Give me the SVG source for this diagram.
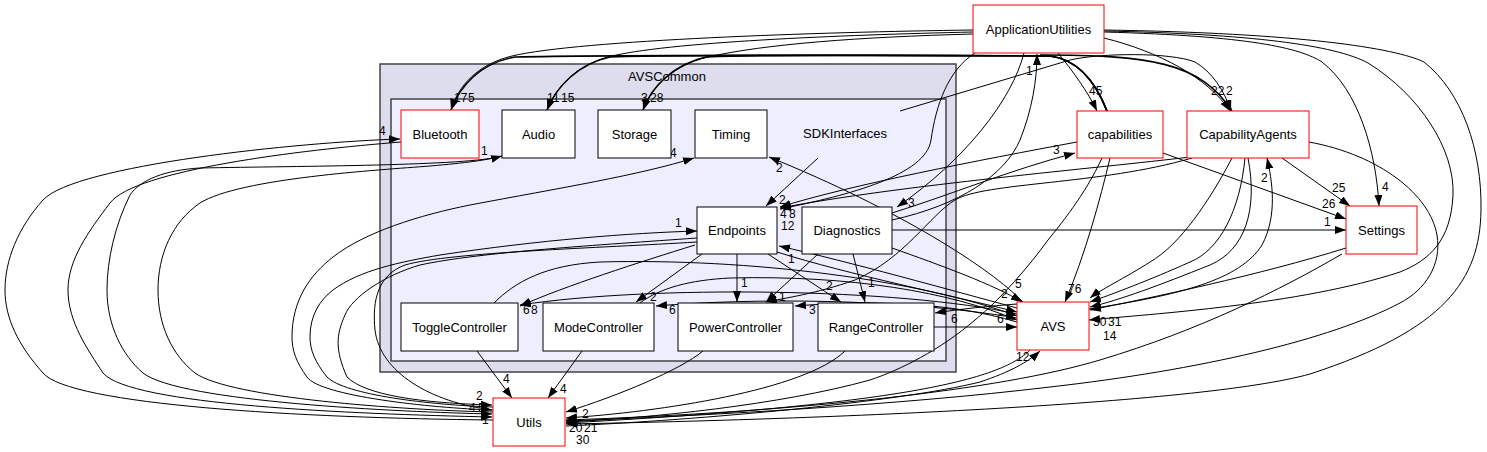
<svg xmlns="http://www.w3.org/2000/svg" width="1487" height="452" viewBox="0 0 1487 452">
<style>
.bg{fill:#ffffff}
.c1{fill:#ddddee;stroke:#444444;stroke-width:1.5}
.c2{fill:#eeeeff;stroke:#444444;stroke-width:1.5}
.n{fill:#ffffff;stroke:#000000;stroke-width:1}
.r{fill:#ffffff;stroke:#ff0000;stroke-width:1}
.t{font-family:"Liberation Sans",Arial,sans-serif;font-size:13px;fill:#000;text-anchor:middle}
.l{font-family:"Liberation Sans",Arial,sans-serif;font-size:12px;fill:#000}
.e{fill:none;stroke:#000;stroke-width:1;marker-end:url(#a)}
.b{fill:none;stroke:#000;stroke-width:1.6;marker-end:url(#a)}
</style>
<defs>
<marker id="a" markerUnits="userSpaceOnUse" markerWidth="12" markerHeight="9" refX="11" refY="4" orient="auto">
<path d="M0,0 L11,4 L0,8 z" fill="#000"/>
</marker>
</defs>
<rect class="bg" x="0" y="0" width="1487" height="452"/>
<g id="cluster-AVSCommon">
<rect class="c1" x="380" y="64" width="576" height="308"/>
<text class="t" x="667" y="80.5">AVSCommon</text>
</g>
<g id="cluster-SDKInterfaces">
<rect class="c2" x="391" y="99" width="555" height="262"/>
<text class="t" x="845" y="137.5">SDKInterfaces</text>
</g>
<g id="connectors">
<path class="e" d="M973,30 C820,32 580,40 512,56 C478,64 458,86 451,110"/>
<path class="b" d="M1107,111 C1098,88 1082,60 1050,56 C900,55 600,55 515,57 C480,63 460,86 451,110"/>
<path class="e" d="M973,32 C840,35 665,42 608,57 C577,65 556,87 547,110"/>
<path class="b" d="M1107,111 C1098,88 1082,60 1050,56 C900,55 700,55 610,57 C578,64 556,87 547,110"/>
<path class="e" d="M973,34 C860,37 765,44 708,57 C674,65 651,87 643,110"/>
<path class="b" d="M1107,111 C1098,88 1082,60 1050,56 C900,55 760,55 706,57 C674,64 651,87 643,110"/>
<path class="e" d="M1058,53 C1072,70 1088,92 1097,111"/>
<path class="e" d="M1104,38 C1160,52 1208,78 1230,111"/>
<path class="b" d="M1040,55 C1150,55 1200,62 1232,111"/>
<path class="e" d="M900,111 L1070,60 C1100,53 1170,52 1195,62 C1212,72 1224,90 1231,111"/>
<path class="e" d="M1104,32 C1250,36 1300,48 1322,62 C1358,90 1376,150 1379,206"/>
<path class="e" d="M1104,31 C1250,34 1335,45 1368,63 C1420,95 1455,150 1453,195 C1451,240 1430,260 1400,272 C1300,305 1150,314 1089,320"/>
<path class="e" d="M1104,30 C1300,33 1395,48 1424,62 C1462,92 1482,150 1481,210 C1480,280 1445,330 1310,374 C1200,405 800,420 566,424"/>
<path class="e" d="M1309,142 C1380,155 1430,195 1437,235 C1442,265 1425,290 1400,303 C1330,340 1200,370 1050,387 C900,405 700,416 566,421"/>
<path class="e" d="M1342,254 C1280,290 1200,330 1100,360 C1000,390 800,412 566,420"/>
<path class="e" d="M1346,248 C1260,275 1150,298 1090,310"/>
<path class="e" d="M1163,153 L1346,219"/>
<path class="e" d="M1282,158 L1350,206"/>
<path class="e" d="M892,230 L1346,230"/>
<path class="e" d="M1089,309 C1180,295 1240,280 1262,245 C1278,215 1272,180 1267,158"/>
<path class="e" d="M1232,158 C1210,200 1180,245 1150,262 C1125,278 1100,290 1090,298"/>
<path class="e" d="M1245,158 C1240,210 1220,250 1190,262 C1150,280 1110,295 1090,302"/>
<path class="e" d="M1248,158 C1258,210 1245,250 1210,265 C1160,285 1120,300 1090,307"/>
<path class="e" d="M1192,158 C1100,185 985,182 955,200 C930,215 905,258 855,280 C815,294 785,298 766,302"/>
<path class="e" d="M1190,157 C1100,168 900,185 780,208"/>
<path class="e" d="M1077,142 C980,160 850,185 780,207"/>
<path class="e" d="M975,53 C948,70 936,105 931,140 C926,175 850,195 780,209"/>
<path class="e" d="M892,213 C950,195 1010,170 1075,153"/>
<path class="e" d="M892,220 C960,205 1005,175 1020,140 C1032,110 1037,80 1037,54"/>
<path class="e" d="M1024,53 C1012,100 965,160 897,207"/>
<path class="e" d="M1023,302 C990,268 900,210 769,157"/>
<path class="e" d="M818,158 L766,206"/>
<path class="e" d="M695,245 C640,262 565,286 520,306"/>
<path class="e" d="M702,254 L636,302"/>
<path class="e" d="M737,254 L737,302"/>
<path class="e" d="M768,254 L841,302"/>
<path class="e" d="M818,254 L766,302"/>
<path class="e" d="M853,254 L865,302"/>
<path class="e" d="M477,351 L512,398"/>
<path class="e" d="M582,351 L548,398"/>
<path class="e" d="M703,351 C680,370 620,395 566,412"/>
<path class="e" d="M845,351 C805,390 660,412 566,418"/>
<path class="e" d="M934,327 L1017,327"/>
<path class="e" d="M1017,304 C990,306 960,309 935,313"/>
<path class="e" d="M1017,308 C950,290 850,262 779,246"/>
<path class="e" d="M777,252 C850,275 950,295 1017,312"/>
<path class="e" d="M892,248 C940,265 995,285 1022,302"/>
<path class="e" d="M494,303 C515,282 545,265 600,262 C750,258 920,280 1017,316"/>
<path class="e" d="M640,303 C660,288 690,280 730,278 C850,275 950,292 1017,320"/>
<path class="e" d="M1017,318 C900,298 750,298 656,306"/>
<path class="e" d="M1017,322 C950,302 870,300 795,306"/>
<path class="e" d="M1017,314 C900,288 650,285 520,305"/>
<path class="e" d="M1110,158 C1100,200 1085,255 1065,302"/>
<path class="e" d="M1102,158 C1085,195 1060,225 1048,240 C1030,265 1000,300 975,320 C940,350 900,370 870,380 C780,405 650,418 566,422"/>
<path class="e" d="M566,426 C700,420 900,402 980,382 C1010,372 1028,362 1040,351"/>
<path class="e" d="M1030,350 C1000,380 900,405 566,423"/>
<path class="e" d="M493,420 C300,418 70,405 43,373 C18,345 5,318 5,290 C5,260 18,228 43,200 C75,165 300,142 400,139"/>
<path class="e" d="M401,142 C300,150 135,170 110,203 C88,232 68,260 68,290 C68,322 88,350 103,373 C130,405 350,414 492,417"/>
<path class="e" d="M502,156 C470,166 300,166 200,168 C165,170 140,180 130,195 C115,225 107,260 107,290 C107,325 122,355 143,373 C180,402 400,412 492,414"/>
<path class="e" d="M493,412 C400,410 230,398 195,373 C172,355 158,325 158,290 C158,255 172,222 200,203 C240,178 380,170 430,166 C465,163 488,160 502,156"/>
<path class="e" d="M493,410 C430,408 320,396 307,377 C296,362 292,350 292,337 C292,300 310,275 333,257 C365,232 420,215 470,205 C560,188 640,175 694,158"/>
<path class="e" d="M493,407 C430,405 345,395 327,377 C315,362 310,350 310,337 C310,315 320,300 333,290 C360,270 400,262 440,255 C540,240 630,233 697,231"/>
<path class="e" d="M697,238 C600,245 480,252 420,265 C385,275 352,297 345,315 C336,335 335,350 347,377 C365,395 420,403 492,405"/>
<path class="e" d="M697,242 C600,248 450,252 405,265 C378,275 372,300 375,330 C380,372 430,402 492,410"/>
</g>
<g id="labels">
<text class="l" x="454" y="102">17</text><text class="l" x="468" y="102">5</text>
<text class="l" x="547" y="102">11</text><text class="l" x="561" y="102">15</text>
<text class="l" x="641" y="102">3</text><text class="l" x="650" y="102">28</text>
<text class="l" x="1089" y="95">45</text>
<text class="l" x="1211" y="95">22</text><text class="l" x="1226" y="95">2</text>
<text class="l" x="1382" y="191">4</text>
<text class="l" x="1332" y="192">25</text>
<text class="l" x="1322" y="208">26</text>
<text class="l" x="1324" y="226">1</text>
<text class="l" x="1261" y="182">2</text>
<text class="l" x="1103" y="340">14</text>
<text class="l" x="1093" y="326">30</text><text class="l" x="1108" y="326">31</text>
<text class="l" x="1001" y="298">2</text>
<text class="l" x="1015" y="288">5</text>
<text class="l" x="1068" y="293">76</text>
<text class="l" x="997" y="323">6</text>
<text class="l" x="951" y="323">6</text>
<text class="l" x="1016" y="361">12</text>
<text class="l" x="776" y="172">2</text>
<text class="l" x="670" y="157">4</text>
<text class="l" x="481" y="155">1</text>
<text class="l" x="379" y="135">4</text>
<text class="l" x="779" y="204">2</text>
<text class="l" x="780" y="218">4</text><text class="l" x="789" y="218">8</text><text class="l" x="781" y="230">12</text>
<text class="l" x="908" y="207">3</text>
<text class="l" x="788" y="263">1</text>
<text class="l" x="675" y="227">1</text>
<text class="l" x="741" y="287">1</text>
<text class="l" x="826" y="290">2</text>
<text class="l" x="779" y="301">1</text>
<text class="l" x="868" y="287">1</text>
<text class="l" x="809" y="314">3</text>
<text class="l" x="669" y="314">6</text>
<text class="l" x="650" y="301">2</text>
<text class="l" x="523" y="314">6</text><text class="l" x="531" y="314">8</text>
<text class="l" x="503" y="383">4</text>
<text class="l" x="560" y="393">4</text>
<text class="l" x="476" y="400">2</text>
<text class="l" x="469" y="412">4</text><text class="l" x="478" y="412">5</text><text class="l" x="482" y="424">1</text>
<text class="l" x="582" y="418">2</text>
<text class="l" x="569" y="432">20</text><text class="l" x="584" y="432">21</text><text class="l" x="576" y="444">30</text>
<text class="l" x="1053" y="154">3</text>
<text class="l" x="1026" y="75">1</text>
</g>
<g id="node-ApplicationUtilities"><rect class="r" x="973" y="5" width="131" height="48"/><text class="t" x="1038.5" y="33.5">ApplicationUtilities</text></g>
<g id="node-capabilities"><rect class="r" x="1077" y="111" width="86" height="47"/><text class="t" x="1120" y="139">capabilities</text></g>
<g id="node-CapabilityAgents"><rect class="r" x="1187" y="111" width="122" height="47"/><text class="t" x="1248" y="139">CapabilityAgents</text></g>
<g id="node-Settings"><rect class="r" x="1346" y="206" width="71" height="48"/><text class="t" x="1381.5" y="234.5">Settings</text></g>
<g id="node-AVS"><rect class="r" x="1017" y="302" width="72" height="48"/><text class="t" x="1053" y="330.5">AVS</text></g>
<g id="node-Utils"><rect class="r" x="493" y="398" width="72" height="48"/><text class="t" x="529" y="426.5">Utils</text></g>
<g id="node-Bluetooth"><rect class="r" x="401" y="110" width="78" height="48"/><text class="t" x="440" y="138.5">Bluetooth</text></g>
<g id="node-Audio"><rect class="n" x="502" y="110" width="73" height="48"/><text class="t" x="538.5" y="138.5">Audio</text></g>
<g id="node-Storage"><rect class="n" x="598" y="110" width="73" height="48"/><text class="t" x="634.5" y="138.5">Storage</text></g>
<g id="node-Timing"><rect class="n" x="695" y="110" width="72" height="48"/><text class="t" x="731" y="138.5">Timing</text></g>
<g id="node-Endpoints"><rect class="n" x="697" y="207" width="80" height="47"/><text class="t" x="737" y="235">Endpoints</text></g>
<g id="node-Diagnostics"><rect class="n" x="802" y="207" width="90" height="47"/><text class="t" x="847" y="235">Diagnostics</text></g>
<g id="node-ToggleController"><rect class="n" x="401" y="303" width="117" height="48"/><text class="t" x="459.5" y="331.5">ToggleController</text></g>
<g id="node-ModeController"><rect class="n" x="543" y="303" width="111" height="48"/><text class="t" x="598.5" y="331.5">ModeController</text></g>
<g id="node-PowerController"><rect class="n" x="678" y="303" width="115" height="48"/><text class="t" x="735.5" y="331.5">PowerController</text></g>
<g id="node-RangeController"><rect class="n" x="818" y="303" width="116" height="48"/><text class="t" x="876" y="331.5">RangeController</text></g>
</svg>
